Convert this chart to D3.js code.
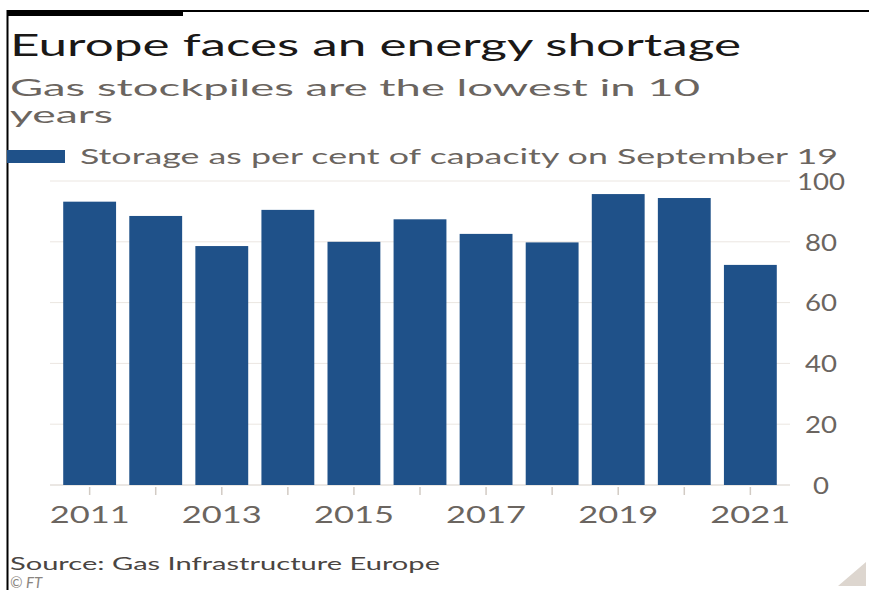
<!DOCTYPE html>
<html>
<head>
<meta charset="utf-8">
<script src="https://cdn.jsdelivr.net/npm/d3@7"></script>
<style>
  html, body { margin: 0; padding: 0; background: #ffffff; }
  svg { display: block; }
  text { font-family: Lato, "Open Sans", "DejaVu Sans", sans-serif; }
</style>
</head>
<body>
<svg id="chart" width="869" height="590"></svg>
<script>
// ---- data ----
const years = ["2011","2012","2013","2014","2015","2016","2017","2018","2019","2020","2021"];
const storagePct = [93.2, 88.5, 78.6, 90.5, 80.0, 87.4, 82.6, 79.8, 95.7, 94.4, 72.4];
const yTicks = [0, 20, 40, 60, 80, 100];
const xLabelYears = ["2011","2013","2015","2017","2019","2021"];

const titleText = "Europe faces an energy shortage";
const subtitleLines = ["Gas stockpiles are the lowest in 10", "years"];
const legendText = "Storage as per cent of capacity on September 19";
const sourceText = "Source: Gas Infrastructure Europe";
const creditText = "© FT";

// ---- setup ----
const svg = d3.select("#chart");
const W = 869, H = 590;
const barColor = "#1f5189";
const textGray = "#6b6560";
const gridColor = "#ebe6e1";
const FONT = 'Lato, "Open Sans", "DejaVu Sans", sans-serif';

// frame
svg.append("line").attr("x1", 7).attr("x2", W).attr("y1", 11).attr("y2", 11)
  .attr("stroke", "#000").attr("stroke-width", 2);
svg.append("line").attr("x1", 7.5).attr("x2", 7.5).attr("y1", 10).attr("y2", H)
  .attr("stroke", "#000").attr("stroke-width", 2);
svg.append("rect").attr("x", 7).attr("y", 10).attr("width", 176).attr("height", 6).attr("fill", "#000");

function fit(sel, w) {
  sel.attr("textLength", w).attr("lengthAdjust", "spacingAndGlyphs");
  return sel;
}

// title & subtitle
fit(svg.append("text").attr("x", 10).attr("y", 56)
  .attr("font-size", 30).attr("fill", "#1a1817").text(titleText), 731);
fit(svg.append("text").attr("x", 10).attr("y", 96)
  .attr("font-size", 24).attr("fill", textGray).text(subtitleLines[0]), 690);
fit(svg.append("text").attr("x", 10).attr("y", 123)
  .attr("font-size", 24).attr("fill", textGray).text(subtitleLines[1]), 103);

// legend
svg.append("rect").attr("x", 7).attr("y", 150).attr("width", 58).attr("height", 13).attr("fill", barColor);
fit(svg.append("text").attr("x", 80).attr("y", 164)
  .attr("font-size", 22).attr("fill", textGray).text(legendText), 758);

// scales
const x = d3.scaleBand().domain(years).range([50, 790]).paddingInner(0.2).paddingOuter(0.2);
const y = d3.scaleLinear().domain([0, 100]).range([485, 181]);

// gridlines
svg.append("g").selectAll("line").data(yTicks).join("line")
  .attr("x1", 50).attr("x2", 790)
  .attr("y1", d => y(d)).attr("y2", d => y(d))
  .attr("stroke", d => d === 0 ? "#d6cfc8" : gridColor).attr("stroke-width", 1);

// bars
svg.append("g").selectAll("rect").data(years).join("rect")
  .attr("x", d => x(d))
  .attr("width", x.bandwidth())
  .attr("y", (d, i) => y(storagePct[i]))
  .attr("height", (d, i) => y(0) - y(storagePct[i]))
  .attr("fill", barColor);

// y axis (right)
const yAxis = d3.axisRight(y).tickValues(yTicks).tickSize(0).tickPadding(0);
const gy = svg.append("g").attr("transform", "translate(821,0)").call(yAxis);
gy.select(".domain").remove();
gy.selectAll("text")
  .attr("text-anchor", "middle").attr("x", 0).attr("dy", "0.36em")
  .attr("font-size", 23).attr("fill", textGray)
  .style("font-family", FONT)
  .each(function(d) {
    const s = String(d);
    d3.select(this).attr("textLength", s.length * 16).attr("lengthAdjust", "spacingAndGlyphs");
  });

// x axis
const xAxis = d3.axisBottom(x).tickSize(8).tickPadding(0)
  .tickFormat(d => xLabelYears.includes(d) ? d : "");
const gx = svg.append("g").attr("transform", "translate(0,487)").call(xAxis);
gx.select(".domain").remove();
gx.selectAll(".tick line").attr("stroke", "#d2cbc4").attr("stroke-width", 1.5);
gx.selectAll(".tick text")
  .attr("y", 36).attr("dy", 0)
  .attr("font-size", 24).attr("fill", textGray)
  .style("font-family", FONT)
  .each(function(d) {
    if (xLabelYears.includes(d)) d3.select(this).attr("textLength", 80).attr("lengthAdjust", "spacingAndGlyphs");
  });

// source & credit
fit(svg.append("text").attr("x", 10).attr("y", 570)
  .attr("font-size", 18).attr("fill", "#4a4542").text(sourceText), 430);
svg.append("text").attr("x", 10).attr("y", 588)
  .attr("font-size", 15).attr("font-style", "italic").attr("fill", "#8a8580").text(creditText);

// corner fold mark
svg.append("path").attr("d", "M838,586 L866,562 L866,586 Z").attr("fill", "#ddd6cf");
</script>
</body>
</html>
